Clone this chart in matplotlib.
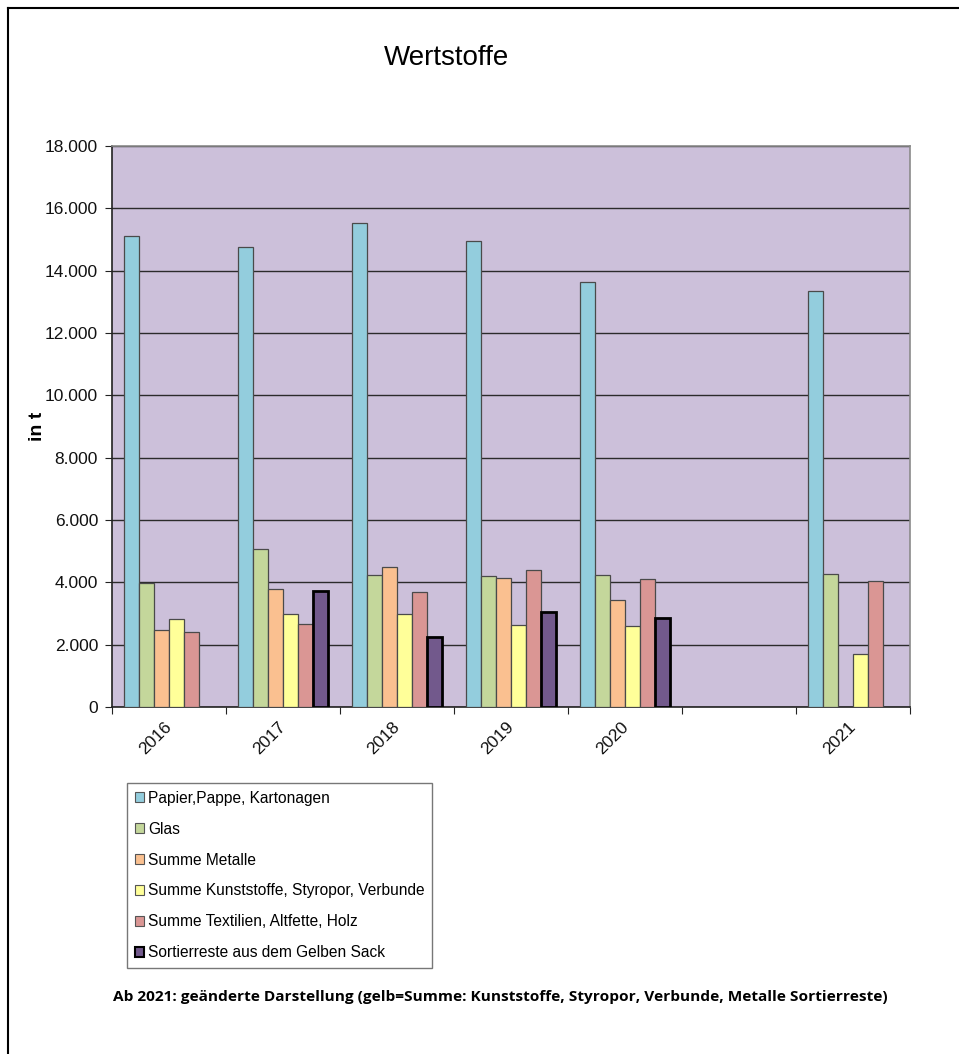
import numpy as np
import matplotlib
matplotlib.use("Agg")
import matplotlib.pyplot as plt
from matplotlib.ticker import FuncFormatter, FixedLocator
from matplotlib.lines import Line2D
import matplotlib.transforms as mtransforms

plt.rcParams['font.family'] = ['Liberation Sans', 'DejaVu Sans']

categories = ["2016", "2017", "2018", "2019", "2020", "", "2021"]
series_names = [
    "Papier,Pappe, Kartonagen",
    "Glas",
    "Summe Metalle",
    "Summe Kunststoffe, Styropor, Verbunde",
    "Summe Textilien, Altfette, Holz",
    "Sortierreste aus dem Gelben Sack",
]
nan = np.nan
papier = [15110, 14760, 15530, 14950, 13640, nan, 13350]
glas = [3980, 5060, 4225, 4210, 4235, nan, 4280]
metalle = [2470, 3790, 4490, 4130, 3420, nan, nan]
kunststoffe = [2810, 3000, 2975, 2630, 2610, nan, 1700]
textilien = [2410, 2665, 3680, 4405, 4095, nan, 4045]
sortierreste = [nan, 3720, 2255, 3050, 2845, nan, nan]
series = [papier, glas, metalle, kunststoffe, textilien, sortierreste]

colors = ["#93CDDD", "#C4D79B", "#FAC090", "#FFFF99", "#DA9694", "#72598C"]
edgecolors = ["#4a4a4a"] * 5 + ["#000000"]
edgewidths = [0.9] * 5 + [2.0]

W, H = 959, 1054
fig = plt.figure(figsize=(W / 100, H / 100), dpi=100)
ax = fig.add_axes([112 / W, 1 - 707 / H, 798 / W, 561 / H])
ax.set_facecolor("#CCC0DA")

x = np.arange(len(categories))
bw = 15.1 / 114
for i, (vals, c, ec, lw, name) in enumerate(zip(series, colors, edgecolors, edgewidths, series_names)):
    v = np.array(vals, dtype=float)
    ax.bar(x + (i - 2.5) * bw, np.nan_to_num(v), width=bw, color=c,
           edgecolor=[ec if not np.isnan(t) else (0, 0, 0, 0) for t in v],
           linewidth=lw, zorder=3, label=name)

ax.set_xlim(-0.5, len(categories) - 0.5)
ax.set_ylim(0, 18000)
ax.yaxis.set_major_locator(FixedLocator(np.arange(0, 18001, 2000)))
ax.yaxis.set_major_formatter(FuncFormatter(lambda v, p: f"{v:,.0f}".replace(",", ".")))
ax.grid(axis="y", color="#2b2b2b", linewidth=1.0, zorder=1)
ax.set_axisbelow(True)

ax.set_xticks(np.arange(-0.5, len(categories), 1.0))
ax.set_xticklabels([])
ax.set_xticks(x, minor=True)
ax.set_xticklabels(categories, minor=True, rotation=45, ha="right",
                   rotation_mode="default", fontsize=12.5, color="#111111")
ax.tick_params(axis="x", which="minor", length=0, pad=9)
ax.tick_params(axis="x", which="major", length=5, direction="out", color="#222222")
ax.tick_params(axis="y", length=5, direction="out", labelsize=12.5, color="#222222", labelcolor="#111111", pad=5)
offset = mtransforms.ScaledTranslation(6 / 100, 0, fig.dpi_scale_trans)
for lab in ax.get_xticklabels(minor=True):
    lab.set_transform(lab.get_transform() + offset)

for s in ["left", "bottom"]:
    ax.spines[s].set_color("#222222")
    ax.spines[s].set_linewidth(1.2)
for s in ["top", "right"]:
    ax.spines[s].set_color("#8a8a8a")
    ax.spines[s].set_linewidth(1.2)

ax.set_ylabel("in t", fontsize=14, fontweight="bold")
ax.yaxis.set_label_coords((46 - 112) / 798, 0.5)

fig.text(446 / W, 1 - 58 / H, "Wertstoffe", fontsize=20, ha="center", va="center")

handles = [plt.Rectangle((0, 0), 1, 1, facecolor=c, edgecolor=("#000000" if i == 5 else "#555555"),
                         linewidth=(1.5 if i == 5 else 0.8)) for i, c in enumerate(colors)]
leg = fig.legend(handles, series_names, loc="upper left",
                 bbox_to_anchor=(127 / W, 1 - 783 / H), fontsize=11.2,
                 frameon=True, fancybox=False, edgecolor="#555555",
                 handlelength=0.6, handleheight=0.6, handletextpad=0.25,
                 labelspacing=1.02, borderpad=0.5, borderaxespad=0)
leg.get_frame().set_linewidth(1.0)

foot = fig.text(113 / W, 1 - 997 / H,
                "Ab 2021: geänderte Darstellung (gelb=Summe: Kunststoffe, Styropor, Verbunde, Metalle Sortierreste)",
                fontsize=11, fontweight="bold", ha="left", va="center",
                family=["Liberation Sans Narrow", "Open Sans", "DejaVu Sans"])
fig.canvas.draw()
r = fig.canvas.get_renderer()
wpx = foot.get_window_extent(r).width
foot.set_fontsize(11 * 771 / wpx)

fig.add_artist(Line2D([8 / W, 8 / W], [0, 1 - 8 / H], color="black", linewidth=1.5, transform=fig.transFigure))
fig.add_artist(Line2D([8 / W, 1], [1 - 8 / H, 1 - 8 / H], color="black", linewidth=1.5, transform=fig.transFigure))

fig.savefig("out.png", dpi=100)
